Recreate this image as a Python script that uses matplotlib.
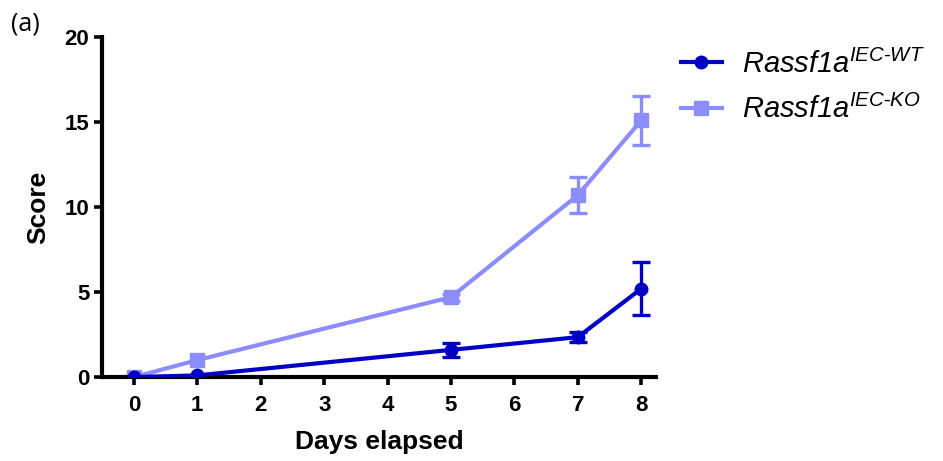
import numpy as np
import matplotlib.pyplot as plt

plt.rcParams['font.family'] = ['Liberation Sans', 'DejaVu Sans']
plt.rcParams['mathtext.fontset'] = 'custom'
plt.rcParams['mathtext.rm'] = 'Liberation Sans'
plt.rcParams['mathtext.it'] = 'Liberation Sans:italic'
plt.rcParams['mathtext.bf'] = 'Liberation Sans:bold'

# --- Data ---
days = np.array([0, 1, 5, 7, 8])
wt_mean = np.array([0.0, 0.1, 1.6, 2.35, 5.2])
wt_err = np.array([0.0, 0.0, 0.4, 0.3, 1.55])
ko_mean = np.array([0.0, 1.0, 4.7, 10.7, 15.1])
ko_err = np.array([0.0, 0.0, 0.2, 1.05, 1.45])
xticks = [0, 1, 2, 3, 4, 5, 6, 7, 8]
yticks = [0, 5, 10, 15, 20]

wt_color = '#0000c4'
ko_color = '#8c8cff'

fig = plt.figure(figsize=(9.43, 4.61), dpi=100)
ax = fig.add_axes([0.108, 0.182, 0.5875, 0.7377])

# lines + markers
ko_line, = ax.plot(days, ko_mean, color=ko_color, marker='s', markersize=9.5,
                   linewidth=3, zorder=2, label=r'Rassf1a$^{IEC\text{-}KO}$')
wt_line, = ax.plot(days, wt_mean, color=wt_color, marker='o', markersize=9,
                   linewidth=3, zorder=3, label=r'Rassf1a$^{IEC\text{-}WT}$')

# error bars only where there is a visible spread
m = ko_err > 0
ax.errorbar(days[m], ko_mean[m], yerr=ko_err[m], fmt='none', ecolor=ko_color,
            elinewidth=2.4, capsize=6.5, capthick=2.4, zorder=2)
m = wt_err > 0
ax.errorbar(days[m], wt_mean[m], yerr=wt_err[m], fmt='none', ecolor=wt_color,
            elinewidth=2.4, capsize=6.5, capthick=2.4, zorder=3)

ax.set_xlim(-0.505, 8.23)
ax.set_ylim(0, 20)
ax.set_xticks(xticks)
ax.set_yticks(yticks)
for side in ['top', 'right']:
    ax.spines[side].set_visible(False)
for side in ['left', 'bottom']:
    ax.spines[side].set_linewidth(3)
ax.tick_params(width=2.6, length=6, direction='out', labelsize=16, pad=3)
ax.tick_params(axis='x', pad=7)
for lab in ax.get_xticklabels() + ax.get_yticklabels():
    lab.set_fontweight('bold')

ax.set_xlabel('Days elapsed', fontsize=19, fontweight='bold', labelpad=10)
ax.set_ylabel('Score', fontsize=19, fontweight='bold', labelpad=10)

leg = fig.legend([wt_line, ko_line], [wt_line.get_label(), ko_line.get_label()],
                 loc='upper left', bbox_to_anchor=(0.722, 0.893),
                 frameon=False, prop={'size': 21, 'style': 'italic'},
                 borderpad=0, borderaxespad=0,
                 handlelength=1.4, handletextpad=0.7, labelspacing=0.55)

fig.text(0.012, 0.975, '(a)', fontsize=18, family='Open Sans', va='top')

fig.savefig('out.png', dpi=100)
